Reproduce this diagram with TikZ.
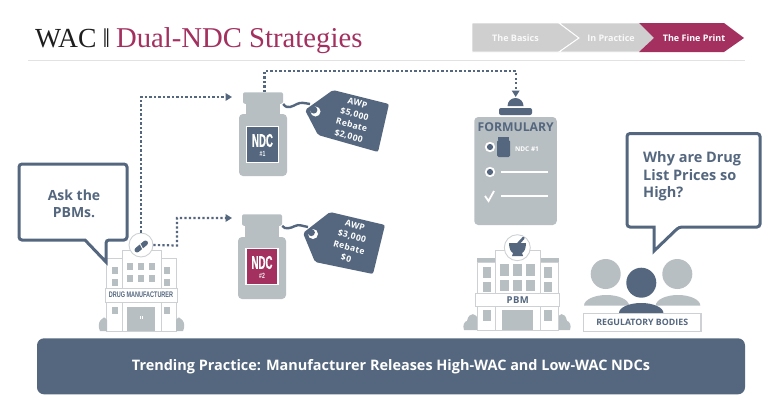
\documentclass[tikz,border=0pt]{standalone}
\usepackage{fontspec}
\usetikzlibrary{arrows.meta}
\setmainfont{Open Sans}
\newfontfamily\titlefont{Liberation Serif}
\newfontfamily\tagfont[LetterSpace=4]{Open Sans}
\newfontfamily\condfont[FakeStretch=0.68]{Liberation Sans}
\newfontfamily\ndcfont[FakeStretch=0.52,FakeBold=0.6]{Liberation Sans}
\definecolor{slate}{HTML}{54677F}
\definecolor{crimson}{HTML}{A3305F}
\definecolor{steel}{HTML}{B8BFC2}
\definecolor{chev}{HTML}{CFCFCF}
\definecolor{hair}{HTML}{E2E2E2}
\definecolor{wall}{HTML}{CDD1D4}
\definecolor{ink}{HTML}{1E1E1E}
\tikzset{
  dotline/.style={draw=slate,line width=2.2pt,dash pattern=on 2.2pt off 2.3pt,-{Triangle[length=6.5pt,width=7.5pt,fill=slate]}},
  chevshape/.style={fill=chev,draw=white,line width=.9pt},
  chevtext/.style={font=\bfseries\fontsize{9}{10}\selectfont,text=#1,inner sep=0pt},
  bubble/.style={draw=slate,line width=3pt,fill=white,rounded corners=3pt,line join=miter},
  bubbletext/.style={font=\bfseries\fontsize{14}{17.5}\selectfont,text=slate,align=center,inner sep=0pt},
  steelpart/.style={fill=steel,draw=none},
  slatepart/.style={fill=slate,draw=none},
  capnode/.style={fill=steel,rounded corners=2pt,inner sep=0pt,minimum width=40pt,minimum height=11.5pt},
  bodynode/.style={fill=steel,rounded corners=4pt,inner sep=0pt,minimum width=48pt,minimum height=62pt},
  labelnode/.style={fill=#1,draw=white,line width=1.1pt,inner sep=0pt,minimum width=32pt,minimum height=36pt},
  ndctext/.style={inner sep=0pt,text=white,font=\ndcfont\bfseries\fontsize{18.5}{18}\selectfont},
  ndcnum/.style={inner sep=0pt,text=white!85!steel,font=\condfont\bfseries\fontsize{7.5}{8}\selectfont},
  tagtext/.style={rotate=-15,text=white,align=center,inner sep=0pt,font=\tagfont\bfseries\fontsize{8.6}{11.4}\selectfont},
  wallline/.style={draw=wall,line width=.9pt,fill=white},
  win/.style={fill=steel,draw=none},
  signnode/.style={draw=wall,line width=.9pt,fill=white,inner sep=0pt,text=slate},
  badge/.style={circle,draw=wall,line width=.9pt,fill=white,inner sep=0pt},
}
\begin{document}
\begin{tikzpicture}[x=1pt,y=-1pt]
\useasboundingbox (0,0) rectangle (768,410);
\fill[white] (0,0) rectangle (768,410);

% header
\node[anchor=base west,inner sep=0pt,font=\titlefont\fontsize{27.6}{30}\selectfont,text=ink] (title) at (35,47)
  {WAC\kern 6pt{\fontsize{27}{27}\selectfont ‖}\kern 6pt\textcolor{crimson}{\fontsize{28.7}{30}\selectfont Dual-NDC Strategies}};
\draw[hair,line width=.9pt] (28,60.5) -- (745,60.5);
\path[chevshape] (472,23) -- (559,23) -- (579,38) -- (559,52) -- (472,52) -- cycle;
\path[chevshape] (559,23) -- (640,23) -- (655,38) -- (640,52) -- (559,52) -- (579,38) -- cycle;
\path[fill=crimson] (639,23) -- (724,23) -- (744,38) -- (724,52) -- (639,52) -- (654,38) -- cycle;
\node[chevtext=white!88!chev] (basics) at (515.5,38) {The Basics};
\node[chevtext=white!88!chev] (practice) at (611,38) {In Practice};
\node[chevtext=white] (fine) at (694,38.5) {The Fine Print};

% manufacturer building
\path[wallline] (106,258) rectangle (176,331);
\path[steelpart] (100,331) .. controls (97,324) and (100,320) .. (102,319) .. controls (104,316) and (106,318) .. (107,320) -- (107,331) -- cycle;
\path[steelpart] (183,331) .. controls (186,324) and (183,320) .. (181,319) .. controls (179,316) and (177,318) .. (176,320) -- (176,331) -- cycle;
\path[wallline] (122,250) rectangle (161,331);
\foreach \x in {112,164} {
  \foreach \y in {267,279,307} \path[win] (\x,\y) rectangle ++(6,6.5);
}
\foreach \x in {127,138,149} {
  \foreach \y in {263,275} \path[win] (\x,\y) rectangle ++(6.2,7);
}
\path[win] (127,307) rectangle (155,331);
\draw[white,line width=.6pt] (140,316) -- (140,319) (142.5,316) -- (142.5,319);
\node[signnode,minimum width=72pt,minimum height=14pt,font=\condfont\bfseries\fontsize{8.1}{9}\selectfont] (mfgsign) at (141,295) {DRUG MANUFACTURER};
\node[badge,minimum size=24pt] (mfgbadge) at (141,245) {};
\draw[slate,line width=5pt,line cap=round] (137,250) -- (145.5,243);
\draw[white,line width=.9pt] (140,243.8) -- (143,249.5);

% pbm building
\path[steelpart] (464,330) .. controls (462,325) and (465,321) .. (467,321) .. controls (469,311) and (477,313) .. (478,320) -- (478,330) -- cycle;
\path[steelpart] (570,330) .. controls (572,325) and (569,321) .. (567,321) .. controls (565,311) and (558,313) .. (557,320) -- (557,330) -- cycle;
\path[wallline] (477,262) rectangle (558,330);
\path[steelpart] (477,258) rectangle (558.7,262);
\path[wallline] (495,250) rectangle (540,330);
\foreach \x in {482.7,543.5} {
  \path[win] (\x,267) rectangle ++(8.6,11);
  \path[win] (\x,282) rectangle ++(8.6,10);
  \path[win] (\x,310) rectangle ++(8.6,11);
}
\foreach \x in {499.7,513,525.7} {
  \path[win] (\x,264) rectangle ++(9.3,12);
  \path[win] (\x,280) rectangle ++(9.3,11);
}
\path[win] (502,310) rectangle (533,330);
\node[signnode,minimum width=84pt,minimum height=13.4pt,font=\tagfont\bfseries\fontsize{9.5}{10}\selectfont] (pbmsign) at (517.7,300) {PBM};
\node[badge,minimum size=26pt] (pbmbadge) at (517.3,247.7) {};
\path[slatepart] (509,243) -- (526,243) .. controls (526,249) and (524,252) .. (522,253) -- (523,256) -- (512,256) -- (513,253) .. controls (511,252) and (509,249) .. (509,243) -- cycle;
\draw[slate,line width=2.6pt,line cap=round] (517,245) -- (523.5,238);

% bottle 1
\node[capnode] (capA) at (263,98) {};
\path[steelpart] (246,103) rectangle (280,116);
\node[bodynode] (bodyA) at (263,145) {};
\node[labelnode=slate] (ndcA) at (262.5,144.5) {};
\node[ndctext] (ndcAt) at (262.5,140.5) {NDC};
\node[ndcnum] (ndcAn) at (262.5,153.5) {\#1};
% bottle 2
\node[capnode] (capB) at (262,220) {};
\path[steelpart] (245,225) rectangle (279,238);
\node[bodynode] (bodyB) at (262,268) {};
\node[labelnode=crimson] (ndcB) at (262,266.5) {};
\node[ndctext] (ndcBt) at (262,262.5) {NDC};
\node[ndcnum] (ndcBn) at (262,275.5) {\#2};

% tag 1
\draw[slate,line width=2.4pt] (capA.south east) .. controls (287,110) and (293,106) .. (297,104) .. controls (301,102) and (304,103) .. (310,104);
\path[slatepart,rounded corners=2pt] (305,110) -- (333,90) -- (389,104) -- (378,152) -- (318,135) -- cycle;
\fill[white] (315.5,111.5) circle (5);
\fill[slate] (313.8,110) circle (3.6);
\node[tagtext] (tagA) at (353,120) {AWP\\\$5,000\\Rebate\\\$2,000};
% tag 2
\draw[slate,line width=2.4pt] (capB.south east) .. controls (285,230) and (291,228) .. (295,226) .. controls (299,224) and (302,226) .. (308,227);
\path[slatepart,rounded corners=2pt] (303,233) -- (330,212) -- (385,225) -- (373,274) -- (315,262) -- cycle;
\fill[white] (313,234) circle (5);
\fill[slate] (311.3,232.5) circle (3.6);
\node[tagtext] (tagB) at (350.5,242) {AWP\\\$3,000\\Rebate\\\$0};

% formulary
\node[fill=steel,rounded corners=4pt,inner sep=0pt,minimum width=82.5pt,minimum height=108pt] (board) at (515.5,171) {};
\node[fill=slate,rounded corners=2pt,inner sep=0pt,minimum width=33pt,minimum height=7pt] (clipbar) at (515.5,111.5) {};
\path[slatepart] (507.5,106) arc[start angle=180,end angle=360,x radius=8,y radius=8] -- cycle;
\node[inner sep=0pt,font=\bfseries\fontsize{12.2}{13}\selectfont,text=slate] (formtitle) at (515.7,127) {FORMULARY};
\foreach \y/\n in {147/a,172/b} {
  \fill[white] (490,\y) circle (5.2);
  \fill[slate] (490,\y) circle (3.1);
}
\path[slatepart] (498,137) rectangle (509,139.5);
\path[slatepart,rounded corners=1.5pt] (497,140) rectangle (510,157);
\node[inner sep=0pt,font=\bfseries\fontsize{6.5}{7}\selectfont,text=white] (ndcitem) at (527,149.5) {NDC \#1};
\draw[white,line width=1.3pt] (501,172) -- (548,172);
\draw[white,line width=1.3pt] (501,196) -- (548,196);
\draw[white,line width=1.8pt] (485,196) -- (488.5,201) -- (494,191);

% bubbles
\path[bubble] (19,164) -- (127,164) -- (127,240) -- (106,240) [sharp corners] -- (106,262) -- (85,240) [rounded corners=3pt] -- (19,240) -- cycle;
\node[bubbletext] (ask) at (74,204) {Ask the\\PBMs.};
\path[bubble] (627,133.5) -- (760,133.5) -- (760,227) -- (679,227) [sharp corners] -- (654,251) -- (654,227) [rounded corners=3pt] -- (627,227) -- cycle;
\node[anchor=west,bubbletext,align=left,font=\bfseries\fontsize{14.5}{17.6}\selectfont] (why) at (643,176.5) {Why are Drug\\List Prices so\\High?};

% people
\fill[steel] (605.7,274) circle (15);
\fill[steel] (677.3,274) circle (15);
\fill[slate] (641.3,282.7) circle (15);
\path[steelpart] (584,305.7) arc[start angle=180,end angle=360,x radius=22.5,y radius=10.7] -- cycle;
\path[steelpart] (655.7,305.7) arc[start angle=180,end angle=360,x radius=22.3,y radius=10.7] -- cycle;
\path[slatepart] (619,313) arc[start angle=180,end angle=360,x radius=22.2,y radius=10] -- cycle;
\node[draw=wall,line width=1.1pt,fill=white,inner sep=0pt,minimum width=117.5pt,minimum height=17.6pt,font=\bfseries\fontsize{8.8}{10}\selectfont,text=slate] (regbox) at (642.2,322.5) {REGULATORY BODIES};

% banner
\node[fill=slate,rounded corners=7pt,inner sep=0pt,minimum width=708pt,minimum height=56pt,text=white,font=\bfseries\fontsize{14.45}{16}\selectfont] (banner) at (391,366.3) {Trending Practice: Manufacturer Releases High-WAC and Low-WAC NDCs};

% connectors
\coordinate (inA) at (232,97);
\coordinate (inB) at (232,218);
\coordinate (inF) at (515.7,97);
\coordinate (topA) at (264.5,71);
\coordinate (midB) at (177,245.5);
\draw[dotline] (mfgbadge.north) -- (mfgbadge.north |- inA) -- (inA);
\draw[dotline] (mfgbadge.east) -- (midB) -- (midB |- inB) -- (inB);
\draw[dotline] (capA.north -| topA) -- (topA) -- (topA -| inF) -- (inF);
\end{tikzpicture}
\end{document}
